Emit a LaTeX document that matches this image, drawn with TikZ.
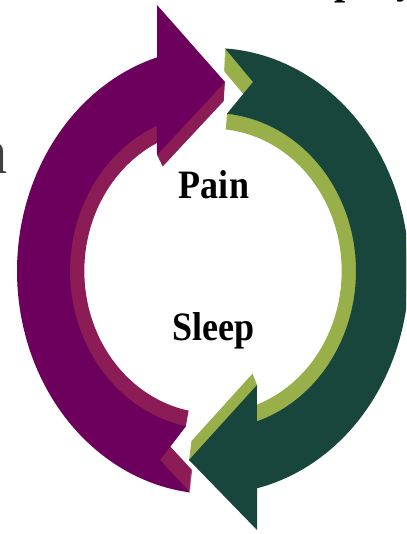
\documentclass[tikz,border=0pt]{standalone}
\usepackage{fontspec}
\usepackage{graphicx}
\setmainfont{Liberation Serif}
\definecolor{purplefront}{RGB}{108,0,92}
\definecolor{purpleside}{RGB}{140,28,86}
\definecolor{greenfront}{RGB}{24,70,60}
\definecolor{greenside}{RGB}{152,175,74}
\definecolor{fraggray}{RGB}{64,64,64}
\begin{document}
\begin{tikzpicture}[x=1pt,y=-1pt,
  labeltext/.style={font=\bfseries\fontsize{36}{40}\selectfont, anchor=base, inner sep=0pt},
  fragtext/.style={anchor=base west, inner sep=0pt}]
\useasboundingbox (0,0) rectangle (406,534);
\clip (0,0) rectangle (406,534);
\def\purpleshape{(190,492.5)
  -- plot[domain=96.7:253.4, samples=90] ({213+196*cos(\x)},{271+223*sin(\x)})
  -- (157,5) -- (225,82) -- (157,155)
  -- plot[domain=246.9:100.9, samples=90] ({213+143*cos(\x)},{271+158*sin(\x)})
  -- (160,460) -- cycle}
\def\greenshape{(225,48.4)
  -- plot[domain=-86.5:77.0, samples=90] ({213+196*cos(\x)},{271+223*sin(\x)})
  -- (257,530) -- (189,460) -- (257,385)
  -- plot[domain=72.1:-84.4, samples=90] ({213+143*cos(\x)},{271+158*sin(\x)})
  -- (253,82) -- cycle}
% extruded sides (sweep toward the centre)
\foreach \s in {0.900,0.904,...,0.997} {
  \fill[purpleside, scale around={\s:(213,271)}] \purpleshape;
  \fill[greenside, scale around={\s:(213,271)}] \greenshape;
}
% front faces
\fill[purplefront] \purpleshape;
\fill[greenfront] \greenshape;
% labels
\node[labeltext] (pain) at (214,199) {\scalebox{1}[1.12]{Pain}};
\node[labeltext] (sleep) at (213.5,340) {\scalebox{1}[1.12]{Sleep}};
% cropped text fragments at the edges
\node[fragtext, text=fraggray, font=\fontsize{56}{60}\selectfont] (fragn) at (-20.4,174) {\scalebox{1}[1.12]{n}};
\node[fragtext, font=\bfseries\fontsize{40}{44}\selectfont] (fragp) at (334,-6) {\scalebox{1}[1.12]{p}};
\node[fragtext, font=\bfseries\fontsize{40}{44}\selectfont] (fragy) at (396,-7) {\scalebox{1}[1.12]{y}};
\end{tikzpicture}
\end{document}
